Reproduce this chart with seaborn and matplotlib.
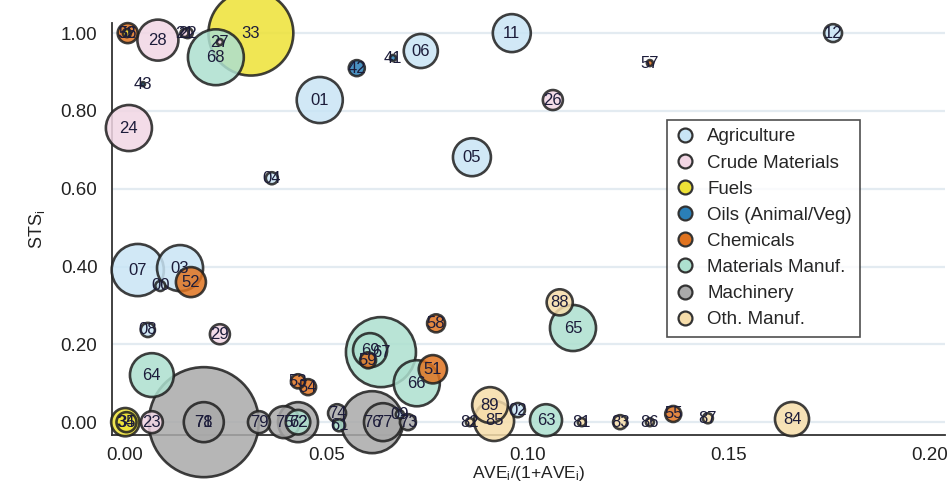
import matplotlib
matplotlib.use("Agg")
import matplotlib.pyplot as plt
from matplotlib.lines import Line2D
import seaborn as sns
import pandas as pd

# codigos SITC, setor, AVE/(1+AVE), STS e peso (tamanho da bolha)
codigos = ["00", "01", "02", "03", "04", "05", "06", "07", "08", "09", "11", "12",
           "21", "22", "23", "24", "26", "27", "28", "29",
           "32", "33", "34", "35",
           "41", "42", "43",
           "51", "52", "53", "54", "55", "56", "57", "58", "59",
           "61", "62", "63", "64", "65", "66", "67", "68", "69",
           "71", "72", "73", "74", "75", "76", "77", "78", "79",
           "81", "82", "83", "84", "85", "86", "87", "88", "89"]
setores = (["Agriculture"] * 12 + ["Crude Materials"] * 8 + ["Fuels"] * 4
           + ["Oils (Animal/Veg)"] * 3 + ["Chemicals"] * 9 + ["Materials Manuf."] * 9
           + ["Machinery"] * 9 + ["Oth. Manuf."] * 9)
ave = [0.0088, 0.0484, 0.0976, 0.0137, 0.0365, 0.0862, 0.0735, 0.0032, 0.0057, 0.0683, 0.0961, 0.1759,
       0.0148, 0.0156, 0.0067, 0.0010, 0.1063, 0.0236, 0.0082, 0.0236,
       0.0005, 0.0313, 0.0001, 0.0004,
       0.0666, 0.0576, 0.0045,
       0.0765, 0.0164, 0.0430, 0.0455, 0.1362, 0.0007, 0.1304, 0.0773, 0.0604,
       0.0532, 0.0430, 0.1046, 0.0067, 0.1113, 0.0725, 0.0636, 0.0226, 0.0609,
       0.0196, 0.0430, 0.0703, 0.0527, 0.0395, 0.0614, 0.0641, 0.0196, 0.0333,
       0.1135, 0.0857, 0.1230, 0.1657, 0.0917, 0.1304, 0.1448, 0.1080, 0.0907]
sts = [0.350, 0.828, 0.031, 0.396, 0.627, 0.681, 0.954, 0.391, 0.237, 0.020, 1.000, 1.000,
       1.000, 1.000, 0.000, 0.756, 0.828, 0.977, 0.982, 0.226,
       1.000, 1.000, 0.000, 0.000,
       0.936, 0.910, 0.869,
       0.136, 0.360, 0.105, 0.090, 0.021, 1.000, 0.923, 0.254, 0.159,
       -0.008, 0.000, 0.005, 0.121, 0.242, 0.100, 0.180, 0.938, 0.185,
       0.000, 0.000, 0.000, 0.023, 0.000, 0.000, 0.000, 0.000, 0.000,
       0.000, 0.000, 0.000, 0.008, 0.003, 0.000, 0.010, 0.308, 0.044]
peso = [25, 530, 50, 530, 36, 360, 290, 680, 50, 16, 360, 80,
        16, 25, 120, 530, 100, 9, 420, 100,
        16, 1800, 200, 100,
        9, 64, 4,
        200, 225, 50, 64, 64, 100, 9, 81, 64,
        36, 150, 256, 480, 530, 530, 1225, 780, 290,
        400, 400, 64, 81, 256, 960, 360, 3025, 121,
        16, 16, 49, 290, 400, 16, 25, 170, 320]

categorias = ["Agriculture", "Crude Materials", "Fuels", "Oils (Animal/Veg)",
              "Chemicals", "Materials Manuf.", "Machinery", "Oth. Manuf."]
cores = ["#c9e5f5", "#f2d6e4", "#eee236", "#2a7fb8", "#e0731f", "#ade0cf", "#aaaaaa", "#f6ddaa"]
paleta = dict(zip(categorias, cores))

df = pd.DataFrame({"codigo": codigos, "setor": setores, "ave": ave, "sts": sts, "peso": peso})
df = df.sort_values("peso", ascending=False)

sns.set_style("white")
plt.rcParams["font.family"] = ["Liberation Sans", "DejaVu Sans"]
plt.rcParams["mathtext.default"] = "regular"

fig = plt.figure(figsize=(9.48, 4.87), dpi=100)
ax = fig.add_axes([112 / 948, 52 / 487, 833 / 948, 412 / 487])

# area da bolha proporcional ao peso (raio em px -> pontos)
escala = (2 * 0.72) ** 2
sns.scatterplot(data=df, x="ave", y="sts", hue="setor", palette=paleta,
                size="peso", sizes=(0, escala * max(peso)), size_norm=(0, max(peso)),
                alpha=0.85, edgecolor="#1e1e1e", linewidth=1.9, legend=False,
                clip_on=False, zorder=3, ax=ax)

for _, r in df.iterrows():
    ax.text(r["ave"], r["sts"], r["codigo"], ha="center", va="center",
            fontsize=12, color="#1c1c3a", zorder=5, clip_on=False)

ax.set_xlim(-0.0032, 0.2037)
ax.set_ylim(-0.033, 1.026)
ax.set_xticks([0.00, 0.05, 0.10, 0.15, 0.20])
ax.set_xticklabels(["0.00", "0.05", "0.10", "0.15", "0.20"])
ax.set_yticks([0.0, 0.2, 0.4, 0.6, 0.8, 1.0])
ax.set_yticklabels(["0.00", "0.20", "0.40", "0.60", "0.80", "1.00"])
ax.yaxis.grid(True, color="#e3ebf1", linewidth=1.6, zorder=0)
ax.set_axisbelow(True)
for lado in ["top", "right"]:
    ax.spines[lado].set_visible(False)
for lado in ["left", "bottom"]:
    ax.spines[lado].set_color("#333333")
    ax.spines[lado].set_linewidth(1.3)
ax.tick_params(axis="both", labelsize=13.5, colors="#222222", length=7, width=1.3, direction="out")
ax.tick_params(axis="x", pad=1.5)
ax.set_xlabel("AVE$_i$/(1+AVE$_i$)", fontsize=12.5, color="#222222", labelpad=0)
ax.set_ylabel("STS$_i$", fontsize=13, color="#222222", labelpad=10)

handles = [Line2D([0], [0], marker="o", linestyle="", markersize=10, markerfacecolor=c,
                  markeredgecolor="#333333", markeredgewidth=1.6) for c in cores]
leg = ax.legend(handles, categorias, loc="upper left", bbox_to_anchor=(0.666, 0.765),
                fontsize=13.5, frameon=True, fancybox=False, edgecolor="#222222",
                handletextpad=0.7, labelspacing=0.48, borderpad=0.45, handlelength=1.0,
                borderaxespad=0)
leg.get_frame().set_linewidth(1.2)
leg.set_zorder(10)

fig.savefig("out.png", dpi=100, facecolor="white")
